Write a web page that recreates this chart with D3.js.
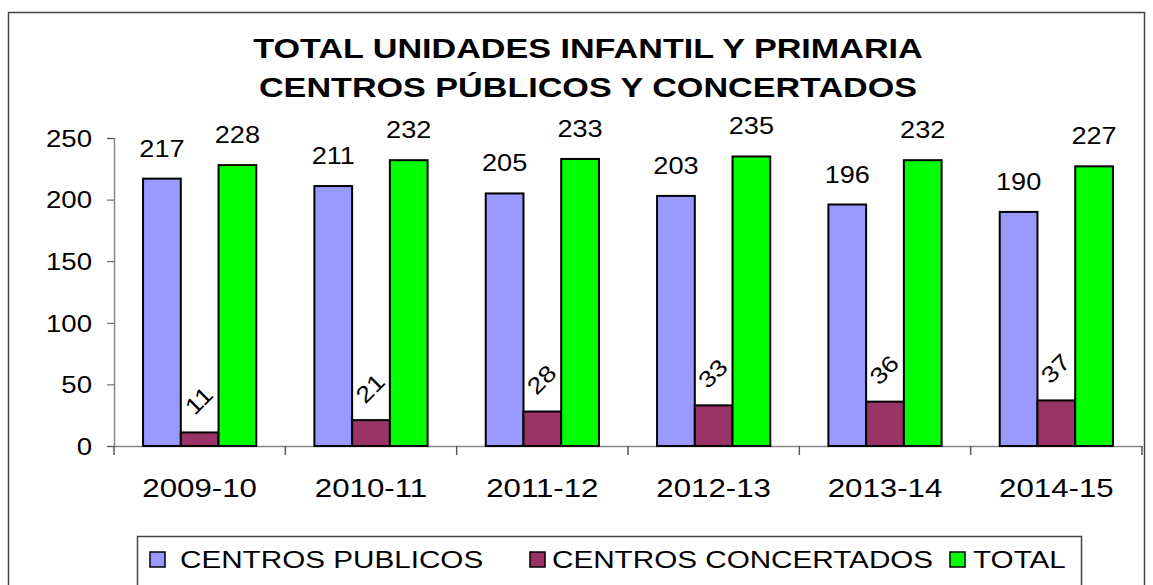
<!DOCTYPE html>
<html>
<head>
<meta charset="utf-8">
<script src="https://cdn.jsdelivr.net/npm/d3@7"></script>
<style>
  body { margin: 0; background: #fff; }
  svg { display: block; font-family: "Liberation Sans", Arial, sans-serif; }
</style>
</head>
<body>
<svg id="chart" width="1153" height="585"></svg>
<script>
// chart data
var categories = ['2009-10', '2010-11', '2011-12', '2012-13', '2013-14', '2014-15'];
var publicos = [217, 211, 205, 203, 196, 190];
var concertados = [11, 21, 28, 33, 36, 37];
var total = [228, 232, 233, 235, 232, 227];
var seriesNames = ['CENTROS PUBLICOS', 'CENTROS CONCERTADOS', 'TOTAL'];
var yTicks = [0, 50, 100, 150, 200, 250];
var titleLines = ['TOTAL UNIDADES INFANTIL Y PRIMARIA', 'CENTROS PÚBLICOS Y CONCERTADOS'];

var colors = ['#9999ff', '#993366', '#00ff00'],
	seriesValues = [publicos, concertados, total];

var svg = d3.select('#chart');

// the original text is drawn wider than the font, so stretch it sideways
function stretched(sel, x, y, sx, rot) {
	return sel.attr('transform', 'translate(' + x + ',' + y + ')' +
		(rot ? ' rotate(' + rot + ')' : '') + ' scale(' + sx + ',1)');
}

// outer frame
svg.append('rect')
	.attr('x', 8.5)
	.attr('y', 12.5)
	.attr('width', 1136)
	.attr('height', 590)
	.attr('fill', 'none')
	.attr('stroke', '#444')
	.attr('stroke-width', 1.5);

// title
titleLines.forEach(function(line, i) {
	stretched(svg.append('text'), 588, 58 + i * 39, 1.265)
		.attr('text-anchor', 'middle')
		.attr('font-size', 27)
		.attr('font-weight', 'bold')
		.text(line);
});

var plotLeft = 114, plotRight = 1142, plotTop = 138, plotBottom = 446;

var x = d3.scaleBand()
	.domain(categories)
	.range([plotLeft, plotRight]);

var inner = d3.scaleBand()
	.domain(d3.range(3))
	.range([0, x.bandwidth()])
	.paddingOuter(0.77)
	.paddingInner(0);

var y = d3.scaleLinear()
	.domain([0, 250])
	.range([plotBottom, plotTop]);

// y axis
var yAxis = svg.append('g')
	.attr('transform', 'translate(' + plotLeft + ',0)')
	.call(d3.axisLeft(y).tickValues(yTicks).tickSize(7));
yAxis.select('.domain').attr('stroke', '#888').attr('stroke-width', 1.5);
yAxis.selectAll('.tick line').attr('stroke', '#555');
yAxis.selectAll('.tick text').remove();
yAxis.selectAll('.tick').each(function(d) {
	stretched(d3.select(this).append('text'), -22, 0, 1.2)
		.attr('text-anchor', 'end')
		.attr('dy', '0.36em')
		.attr('font-size', 23)
		.attr('font-family', '"Liberation Sans", Arial, sans-serif')
		.attr('fill', '#000')
		.text(d);
});

// x axis
var xAxis = svg.append('g')
	.attr('transform', 'translate(0,' + plotBottom + ')')
	.call(d3.axisBottom(x).tickSize(0));
xAxis.select('.domain').attr('stroke', '#888').attr('stroke-width', 1.5);
xAxis.selectAll('.tick text').remove();
xAxis.selectAll('.tick').each(function(d) {
	stretched(d3.select(this).append('text'), 0, 51, 1.25)
		.attr('text-anchor', 'middle')
		.attr('font-size', 25)
		.attr('font-family', '"Liberation Sans", Arial, sans-serif')
		.attr('fill', '#000')
		.text(d);
});

// category boundary ticks
svg.append('g')
	.selectAll('line')
	.data(d3.range(categories.length + 1))
	.enter()
	.append('line')
	.attr('x1', function(i) { return plotLeft + i * x.step(); })
	.attr('x2', function(i) { return plotLeft + i * x.step(); })
	.attr('y1', plotBottom)
	.attr('y2', plotBottom + 9)
	.attr('stroke', '#555')
	.attr('stroke-width', 1.5);

// bars
var groups = svg.append('g')
	.selectAll('g')
	.data(categories)
	.enter()
	.append('g')
	.attr('transform', function(d) { return 'translate(' + x(d) + ',0)'; });

seriesValues.forEach(function(vals, s) {
	groups.append('rect')
		.attr('x', inner(s))
		.attr('y', function(d, i) { return y(vals[i]); })
		.attr('width', inner.bandwidth())
		.attr('height', function(d, i) { return plotBottom - y(vals[i]); })
		.attr('fill', colors[s])
		.attr('stroke', '#000')
		.attr('stroke-width', 2);

	groups.each(function(d, i) {
		var cx = inner(s) + inner.bandwidth() / 2,
			label = d3.select(this).append('text');
		if (s === 1) {
			stretched(label, cx - 1, y(vals[i]) - 32, 1.18, -45).attr('dy', '0.36em');
		} else {
			stretched(label, cx, y(vals[i]) - 22, 1.18);
		}
		label.attr('font-size', 23)
			.attr('text-anchor', 'middle')
			.text(vals[i]);
	});
});

// legend
var legend = svg.append('g');
legend.append('rect')
	.attr('x', 137.5)
	.attr('y', 536.5)
	.attr('width', 944)
	.attr('height', 60)
	.attr('fill', '#fff')
	.attr('stroke', '#444')
	.attr('stroke-width', 1.5);

var legendX = [150, 530, 950],
	legendTextX = [180, 552, 973];
seriesNames.forEach(function(name, s) {
	legend.append('rect')
		.attr('x', legendX[s])
		.attr('y', 552)
		.attr('width', 15)
		.attr('height', 15)
		.attr('fill', colors[s])
		.attr('stroke', '#000')
		.attr('stroke-width', 1.5);
	stretched(legend.append('text'), legendTextX[s], 568, 1.29)
		.attr('font-size', 23)
		.text(name);
});
</script>
</body>
</html>
